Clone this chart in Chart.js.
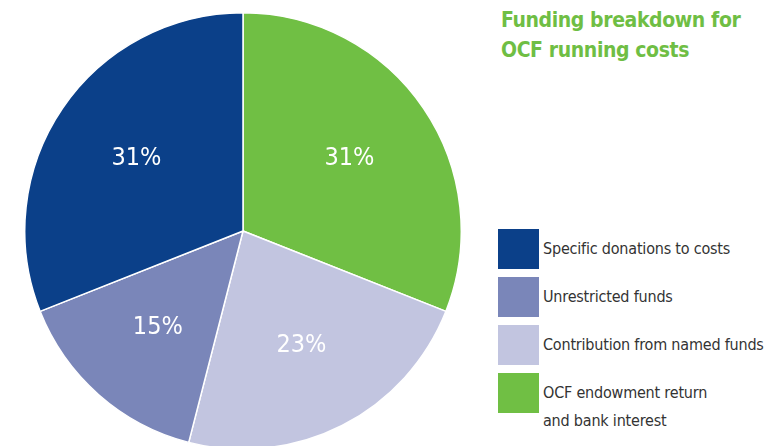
<!DOCTYPE html>
<html>
<head>
<meta charset="utf-8">
<script src="https://cdn.jsdelivr.net/npm/chart.js@4.4.1/dist/chart.umd.min.js"></script>
<style>
  html, body { margin: 0; padding: 0; width: 773px; height: 446px; overflow: hidden; background: #fff; }
  #pieWrap { position: absolute; left: 24px; top: 12px; width: 438px; height: 438px; }
  #title { position: absolute; left: 501px; top: 5px; color: #6fbe44; font-family: "DejaVu Sans Condensed", "Open Sans", sans-serif; font-stretch: condensed; font-weight: bold; font-size: 21px; letter-spacing: -0.4px; line-height: 30px; }
  #legend { position: absolute; left: 498px; top: 229px; font-family: "DejaVu Sans Condensed", "Open Sans", sans-serif; font-stretch: condensed; font-size: 16px; letter-spacing: -0.2px; color: #333; }
  .item { position: relative; height: 48px; }
  .sw { position: absolute; left: 0; top: 0; width: 41px; height: 40px; }
  .tx { position: absolute; left: 45px; top: 6px; line-height: 28px; white-space: nowrap; }
</style>
</head>
<body>
<div id="pieWrap"><canvas id="c"></canvas></div>
<div id="title">Funding breakdown for<br>OCF running costs</div>
<div id="legend"></div>
<script>
// Legend order (top to bottom)
const categories = ["Specific donations to costs", "Unrestricted funds", "Contribution from named funds", "OCF endowment return\nand bank interest"];
const values = [31, 15, 23, 31];
const colors = ["#0b4089", "#7a86b9", "#c2c5e0", "#70bf44"];

// Pie is drawn clockwise from the top in reverse legend order
const pieLabels = categories.slice().reverse();
const pieValues = values.slice().reverse();
const pieColors = colors.slice().reverse();

// legend as HTML
const legendEl = document.getElementById('legend');
categories.forEach((cat, i) => {
  const item = document.createElement('div');
  item.className = 'item';
  const sw = document.createElement('div');
  sw.className = 'sw';
  sw.style.background = colors[i];
  const tx = document.createElement('div');
  tx.className = 'tx';
  tx.innerHTML = cat.split('\n').join('<br>');
  item.appendChild(sw);
  item.appendChild(tx);
  legendEl.appendChild(item);
});

const pctLabels = {
  id: 'pctLabels',
  afterDatasetsDraw(chart) {
    const ctx = chart.ctx;
    const meta = chart.getDatasetMeta(0);
    ctx.save();
    ctx.fillStyle = '#ffffff';
    ctx.font = '25px "DejaVu Sans Condensed", "Open Sans", sans-serif';
    ctx.textAlign = 'center';
    ctx.textBaseline = 'middle';
    meta.data.forEach((arc, i) => {
      const p = arc.getProps(['x', 'y', 'startAngle', 'endAngle', 'outerRadius'], true);
      const mid = (p.startAngle + p.endAngle) / 2;
      const r = p.outerRadius * 0.59;
      ctx.fillText(chart.data.datasets[0].data[i] + '%', p.x + Math.cos(mid) * r, p.y + Math.sin(mid) * r);
    });
    ctx.restore();
  }
};

new Chart(document.getElementById('c'), {
  type: 'pie',
  data: {
    labels: pieLabels,
    datasets: [{
      data: pieValues,
      backgroundColor: pieColors,
      borderColor: '#ffffff',
      borderWidth: 1.5
    }]
  },
  options: {
    responsive: true,
    maintainAspectRatio: false,
    animation: false,
    layout: { padding: 0 },
    plugins: {
      legend: { display: false },
      tooltip: { enabled: false },
      title: { display: false }
    }
  },
  plugins: [pctLabels]
});
</script>
</body>
</html>
